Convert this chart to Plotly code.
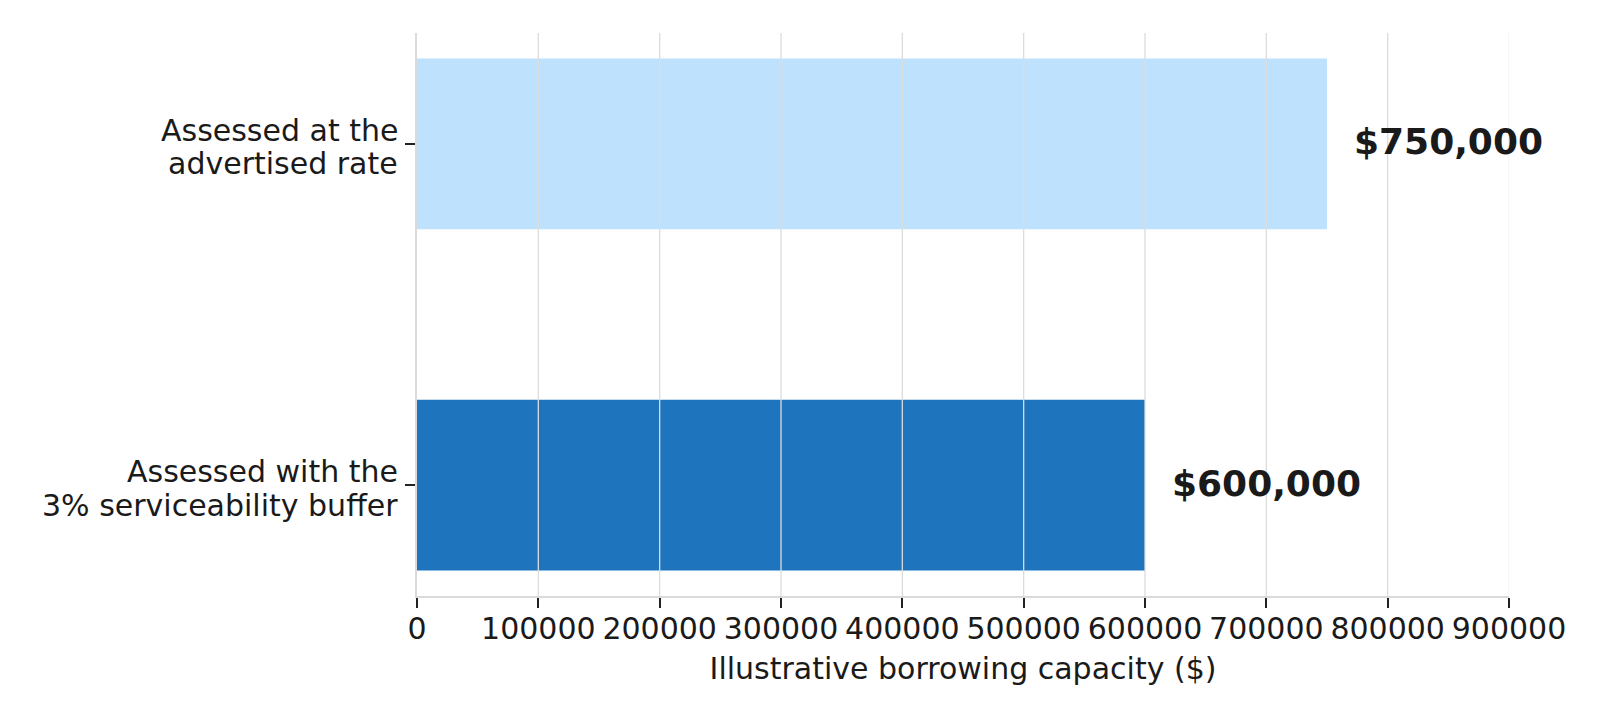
import plotly.graph_objects as go

categories = ["Assessed at the<br>advertised rate", "Assessed with the<br>3% serviceability buffer"]
values = [750000, 600000]
value_labels = ["$750,000", "$600,000"]
bar_colors = ["#bee2fe", "#1f74be"]
x_ticks = [0, 100000, 200000, 300000, 400000, 500000, 600000, 700000, 800000, 900000]
x_title = "Illustrative borrowing capacity ($)"

FONT = "DejaVu Sans"
TXT = "#1a1a1a"

fig = go.Figure()
fig.add_trace(go.Bar(
    x=values, y=categories, orientation="h", width=0.5,
    marker=dict(color=bar_colors, line=dict(width=0)),
    hoverinfo="skip", showlegend=False,
))

# value labels
for v, lab, c in zip(values, value_labels, categories):
    fig.add_annotation(x=v, y=c, xref="x", yref="y", text=lab, showarrow=False,
                       xanchor="left", yanchor="middle", xshift=25, yshift=2,
                       font=dict(family=FONT, size=36, color=TXT, weight="bold"))

# category labels (two lines each, matplotlib-like spacing)
line_shifts = [13.7, -20.0]
for c in categories:
    for line, ys in zip(c.split("<br>"), line_shifts):
        fig.add_annotation(x=0, y=c, xref="paper", yref="y", text=line, showarrow=False,
                           xanchor="right", yanchor="middle", xshift=-17, yshift=ys,
                           font=dict(family=FONT, size=30, color=TXT))

# vertical gridlines drawn above the bars
for t in x_ticks[1:]:
    fig.add_shape(type="line", xref="x", yref="paper", x0=t, x1=t, y0=0, y1=1,
                  layer="above",
                  line=dict(color="#f2f2f2" if t == x_ticks[-1] else "#dcdcdc", width=1.3))

fig.update_layout(
    width=1600, height=720,
    margin=dict(l=417, r=91, t=33, b=124, autoexpand=False),
    paper_bgcolor="white", plot_bgcolor="white",
    font=dict(family=FONT, size=30, color=TXT),
    bargap=0.5,
)
fig.update_xaxes(
    range=[0, 900000], tickvals=x_ticks, ticktext=[str(t) for t in x_ticks],
    showgrid=False,
    showline=True, linecolor="#dadada", linewidth=2,
    ticks="outside", ticklen=10, tickwidth=2.4, tickcolor="#222",
    zeroline=False, ticklabelstandoff=-5,
    title=dict(text=x_title, font=dict(family=FONT, size=30, color=TXT), standoff=13),
    tickfont=dict(family=FONT, size=30, color=TXT), automargin=False,
)
fig.update_yaxes(
    type="category", categoryorder="array", categoryarray=categories,
    range=[1.325, -0.325], showticklabels=False,
    showgrid=False, showline=True, linecolor="#dadada", linewidth=2,
    ticks="outside", ticklen=10, tickwidth=2.4, tickcolor="#222",
    zeroline=False, automargin=False,
)

fig.write_html("out.html")
